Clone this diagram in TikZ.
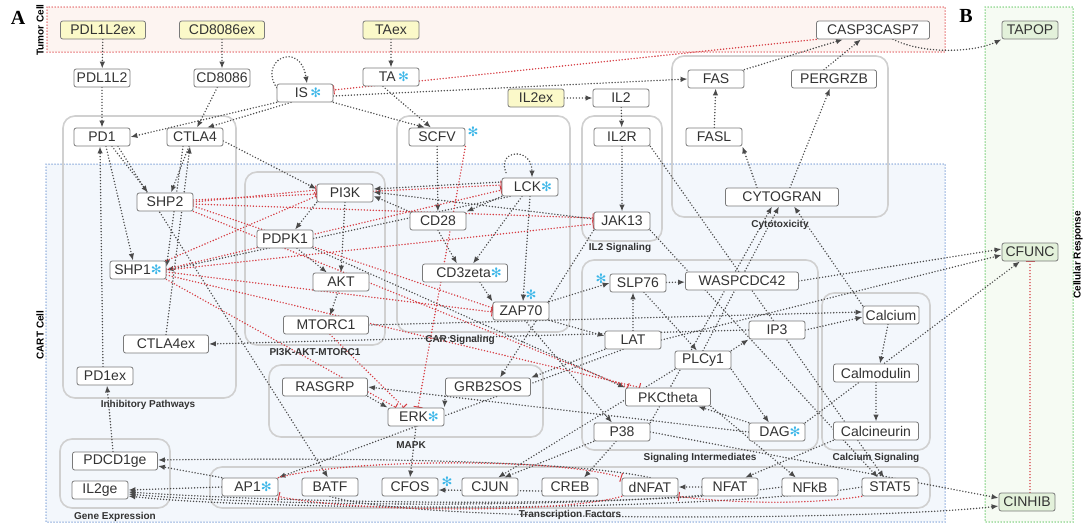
\documentclass[tikz,border=0pt]{standalone}
\usepackage{fontspec}
\setmainfont{Liberation Sans}
\newfontfamily\djv{DejaVu Sans}
\newfontfamily\panelfont{Liberation Serif}
\usetikzlibrary{arrows.meta}
\definecolor{ndb}{HTML}{7A7A7A}
\definecolor{txt}{HTML}{333333}
\definecolor{edg}{HTML}{4A4A4A}
\definecolor{redl}{HTML}{D63A40}
\definecolor{yelf}{HTML}{FBF9C9}
\definecolor{grnf}{HTML}{E3F1DA}
\definecolor{cyanast}{HTML}{3BB6E8}
\definecolor{tumf}{HTML}{FDF4F1}
\definecolor{tumb}{HTML}{E04C50}
\definecolor{cartf}{HTML}{F3F7FC}
\definecolor{cartb}{HTML}{7097D3}
\definecolor{respf}{HTML}{F6FBF3}
\definecolor{respb}{HTML}{5CC45C}
\definecolor{grpc}{HTML}{D0D0D0}
\definecolor{lblc}{HTML}{333333}
\newcommand{\cyast}{{\djv\fontsize{13}{13}\selectfont\color{cyanast}✻}}
\pgfdeclarelayer{bg}
\pgfdeclarelayer{grpl}
\pgfdeclarelayer{edges}
\pgfsetlayers{bg,grpl,edges,main}
\tikzset{
 nd/.style={draw=ndb, rounded corners=2.2pt, fill=white, minimum height=18pt, minimum width=56pt, inner sep=0pt, text=txt, font=\fontsize{14}{14}\selectfont, line width=0.8pt},
 wm/.style={minimum width=85pt}, wl/.style={minimum width=113pt},
 extn/.style={fill=yelf}, respn/.style={fill=grnf},
 act/.style={draw=edg, line width=1.6pt, line cap=round, dash pattern=on 0pt off 3pt, -{Latex[length=7pt,width=5.5pt]}},
 inh/.style={draw=redl, line width=1.6pt, line cap=round, dash pattern=on 0pt off 3pt, -{Bar[width=9pt,line width=1pt]}},
 grp/.style={draw=grpc, rounded corners=12pt, line width=1.6pt},
 glbl/.style={font=\bfseries\fontsize{10}{10}\selectfont, text=lblc},
 plbl/.style={font=\bfseries\fontsize{10}{10}\selectfont, text=black, rotate=90},
 bgbox/.style={line width=1.5pt, line cap=round, dash pattern=on 0pt off 3pt},
 ast/.style={inner sep=0pt},
}
\begin{document}
\begin{tikzpicture}[x=1pt,y=-1pt]
\useasboundingbox (0,0) rectangle (1083,525);
% backgrounds
\begin{pgfonlayer}{bg}
\fill[white] (0,0) rectangle (1083,525);
\fill[tumf] (47,7) rectangle (945,52);
\draw[bgbox, draw=tumb] (47,7) rectangle (945,52);
\fill[cartf] (46,164) rectangle (945,522);
\draw[bgbox, draw=cartb] (46,164) rectangle (945,522);
\fill[respf] (985,7) rectangle (1073,522);
\draw[bgbox, draw=respb] (985,7) rectangle (1073,522);
\end{pgfonlayer}
\begin{pgfonlayer}{grpl}
\draw[grp] (63,116) rectangle (236,398);
\draw[grp] (245,172) rectangle (385,345);
\draw[grp] (397,116) rectangle (570,332);
\draw[grp] (582,116) rectangle (662,241);
\draw[grp] (672,56) rectangle (888,217);
\draw[grp] (269,365) rectangle (543,437);
\draw[grp] (582,260) rectangle (818,450);
\draw[grp] (822,293) rectangle (930,450);
\draw[grp] (60,439) rectangle (170,508);
\draw[grp] (210,467) rectangle (930,508);
\end{pgfonlayer}
% panel labels
\node[font=\panelfont\bfseries\fontsize{20}{20}\selectfont] (pA) at (18,18) {A};
\node[font=\panelfont\bfseries\fontsize{20}{20}\selectfont] (pB) at (966,16) {B};
\node[plbl] (lTumor) at (40,30) {Tumor Cell};
\node[plbl] (lCart) at (40,335) {CART Cell};
\node[plbl] (lResp) at (1078,255) {Cellular Response};
% nodes
\node[nd,wm,extn] (PDL1L2ex) at (103,30) {PDL1L2ex};
\node[nd,wm,extn] (CD8086ex) at (222,30) {CD8086ex};
\node[nd,extn] (TAex) at (391,30) {TAex};
\node[nd,wl] (CASP3CASP7) at (873,30) {CASP3CASP7};
\node[nd,respn] (TAPOP) at (1030,30) {TAPOP};
\node[nd] (PDL1L2) at (102,78) {PDL1L2};
\node[nd] (CD8086) at (222,78) {CD8086};
\node[nd] (IS) at (305,93) {\hspace*{6pt}IS\,\cyast};
\node[nd] (TA) at (391,77) {\hspace*{6pt}TA\,\cyast};
\node[nd] (FAS) at (716,79) {FAS};
\node[nd,wm] (PERGRZB) at (834,79) {PERGRZB};
\node[nd,extn] (IL2ex) at (536,98) {IL2ex};
\node[nd] (IL2) at (621,98) {IL2};
\node[nd] (PD1) at (102,137) {PD1};
\node[nd] (CTLA4) at (195,137) {CTLA4};
\node[nd] (SCFV) at (437,137) {SCFV};
\node[ast] (aSCFV) at (473,132) {\cyast};
\node[nd] (IL2R) at (622,137) {IL2R};
\node[nd] (FASL) at (714,137) {FASL};
\node[nd,wl] (CYTOGRAN) at (782,197) {CYTOGRAN};
\node[nd] (SHP2) at (165,202) {SHP2};
\node[nd] (PI3K) at (345,193) {PI3K};
\node[nd] (LCK) at (530,187) {\hspace*{6pt}LCK\cyast};
\node[nd] (CD28) at (438,221) {CD28};
\node[nd] (JAK13) at (622,221) {JAK13};
\node[nd] (PDPK1) at (285,239) {PDPK1};
\node[nd] (SHP1) at (138,270) {SHP1\cyast};
\node[nd,wm] (CD3zeta) at (465,273) {\hspace*{8pt}CD3zeta\cyast};
\node[nd] (AKT) at (341,282) {AKT};
\node[nd] (SLP76) at (638,283) {SLP76};
\node[ast] (aSLP76) at (601,279) {\cyast};
\node[nd,wl] (WASPCDC42) at (742,281) {WASPCDC42};
\node[nd] (ZAP70) at (521,311) {ZAP70};
\node[ast] (aZAP70) at (531,295) {\cyast};
\node[nd,wm] (MTORC1) at (326,325) {MTORC1};
\node[nd] (Calcium) at (891,315) {Calcium};
\node[nd,wm] (CTLA4ex) at (166,344) {CTLA4ex};
\node[nd] (LAT) at (633,340) {LAT};
\node[nd] (IP3) at (777,330) {IP3};
\node[nd] (PLCy1) at (703,360) {PLCy1};
\node[nd] (PD1ex) at (105,376) {PD1ex};
\node[nd,wm] (Calmodulin) at (876,373) {Calmodulin};
\node[nd,wm] (RASGRP) at (325,387) {RASGRP};
\node[nd,wm] (GRB2SOS) at (488,387) {GRB2SOS};
\node[nd,wm] (PKCtheta) at (668,397) {PKCtheta};
\node[nd] (ERK) at (416,417) {\hspace*{6pt}ERK\cyast};
\node[nd] (P38) at (622,432) {P38};
\node[nd] (DAG) at (777,432) {\hspace*{6pt}DAG\cyast};
\node[nd,wm] (Calcineurin) at (876,431) {Calcineurin};
\node[nd,wm] (PDCD1ge) at (115,461) {PDCD1ge};
\node[nd] (AP1) at (250,487) {\hspace*{6pt}AP1\cyast};
\node[nd] (BATF) at (330,487) {BATF};
\node[nd] (CFOS) at (410,487) {CFOS};
\node[ast] (aCFOS) at (447,482) {\cyast};
\node[nd] (CJUN) at (490,487) {CJUN};
\node[nd] (CREB) at (570,487) {CREB};
\node[nd] (dNFAT) at (650,487) {dNFAT};
\node[nd] (NFAT) at (730,487) {NFAT};
\node[nd] (NFkB) at (810,487) {NFkB};
\node[nd] (STAT5) at (890,487) {STAT5};
\node[nd] (IL2ge) at (100,490) {IL2ge};
\node[nd,respn] (CFUNC) at (1030,252) {CFUNC};
\node[nd,respn] (CINHIB) at (1027,502) {CINHIB};
% group labels
\node[glbl] (gInh) at (148,405) {Inhibitory Pathways};
\node[glbl] (gPI3K) at (315,352) {PI3K-AKT-MTORC1};
\node[glbl] (gCAR) at (460,340) {CAR Signaling};
\node[glbl] (gIL2) at (620,248) {IL2 Signaling};
\node[glbl] (gCyto) at (780,225) {Cytotoxicity};
\node[glbl] (gMAPK) at (411,445) {MAPK};
\node[glbl] (gSig) at (700,458) {Signaling Intermediates};
\node[glbl] (gCa) at (876,458) {Calcium Signaling};
\node[glbl] (gGene) at (115,517) {Gene Expression};
\node[glbl] (gTF) at (570,515) {Transcription Factors};
% edges
\begin{pgfonlayer}{edges}
\draw[act] (PDL1L2ex) -- (PDL1L2);
\draw[act] (CD8086ex) -- (CD8086);
\draw[act] (TAex) -- (TA);
\draw[act] (PDL1L2) -- (PD1);
\draw[act] (CD8086) -- ([xshift=2pt]CTLA4.north);
\draw[act] (IS.south west) -- (PD1.east);
\draw[act] ([xshift=-14pt]IS.south) -- ([xshift=12pt]CTLA4.north);
\draw[act] ([xshift=2pt,yshift=3pt]IS.west) .. controls (255,62) and (300,38) .. ([xshift=2pt]IS.north);
\draw[act] (IS.south east) -- ([xshift=-12pt]SCFV.north);
\draw[act] ([xshift=-8pt]TA.south) -- ([xshift=-6pt]SCFV.north);
\draw[act] ([yshift=-3pt]IS.east) -- (FAS.west);
\draw[inh] (CASP3CASP7.south west) -- ([yshift=3pt]IS.east);
\draw[act] (IL2ex) -- (IL2);
\draw[act] (IL2) -- (IL2R);
\draw[act] (FASL) -- (FAS);
\draw[act] (FAS.north east) -- ([xshift=-30pt]CASP3CASP7.south);
\draw[act] ([xshift=-10pt]PERGRZB.north) -- ([xshift=-12pt]CASP3CASP7.south);
\draw[act] ([xshift=20pt]CASP3CASP7.south) .. controls (925,55) and (975,52) .. (TAPOP.south west);
\draw[act] ([xshift=-25pt]CYTOGRAN.north) -- (FASL.south east);
\draw[act] ([xshift=8pt]CYTOGRAN.north) -- ([xshift=-4pt]PERGRZB.south);
% inhibitory pathways
\draw[act] ([xshift=-2pt]PD1ex.north) -- ([xshift=-2pt]PD1.south);
\draw[act] ([xshift=-2pt]PDCD1ge.north) -- ([xshift=2pt]PD1ex.south);
\draw[act] ([xshift=4pt]PD1.south) -- ([xshift=-5pt]SHP1.north);
\draw[act] ([xshift=10pt]PD1.south) -- ([xshift=-17pt]SHP2.north);
\draw[act] ([xshift=-6pt]CTLA4.south) -- ([xshift=6pt]SHP2.north);
\draw[act] ([xshift=-12pt]CTLA4.south) -- ([yshift=3pt]SHP1.east);
\draw[act] (CTLA4ex.north) -- ([xshift=-5pt]CTLA4.south);
\draw[act] ([xshift=16pt]PD1.south) -- ([xshift=-2pt]BATF.north);
\draw[act] ([yshift=-4pt]CTLA4.east) -- ([yshift=4pt]PI3K.west);
% CAR
\draw[act] (SCFV) -- (CD28);
\draw[act] (LCK.south west) -- (CD28.north east);
\draw[act] ([xshift=-24pt,yshift=5pt]LCK.north) .. controls (496,150) and (532,146) .. ([xshift=2pt]LCK.north);
\draw[act] ([yshift=5pt]LCK.west) -- ([yshift=4pt]PI3K.east);
\draw[act] (CD28.north west) -- ([yshift=-3pt]PI3K.east);
\draw[act] ([yshift=2pt]JAK13.west) -- ([yshift=1pt]PI3K.east);
\draw[act] ([xshift=-8pt]LCK.south) -- ([xshift=8pt]CD3zeta.north);
\draw[act] (CD28.south) -- ([xshift=-8pt]CD3zeta.north);
\draw[act] (LCK.south) -- ([xshift=2pt]ZAP70.north);
\draw[act] ([xshift=15pt]CD3zeta.south) -- (ZAP70.north west);
\draw[act] ([xshift=-20pt]LCK.south) -- (SHP1.east);
% PI3K
\draw[act] (PI3K.south west) -- ([xshift=10pt]PDPK1.north);
\draw[act] (PI3K.south) -- (AKT.north);
\draw[act] ([xshift=12pt]PDPK1.south) -- ([xshift=-14pt]AKT.north);
\draw[act] ([xshift=-3pt]AKT.south) -- ([xshift=4pt]MTORC1.north);
\draw[act] (PDPK1.south east) -- (PKCtheta.north west);
% IL2
\draw[act] (IL2R) -- (JAK13);
\draw[act] (JAK13.south east) -- ([xshift=-12pt]STAT5.north);
\draw[act] (IL2R.south east) -- ([xshift=-6pt]STAT5.north);
\draw[act] (JAK13.south west) -- ([xshift=12pt]GRB2SOS.north);
% signaling intermediates
\draw[act] (ZAP70.north east) -- (SLP76.west);
\draw[act] (ZAP70.south east) -- ([yshift=4pt]LAT.west);
\draw[act] (LAT.north) -- ([xshift=-5pt]SLP76.south);
\draw[act] (SLP76) -- (WASPCDC42);
\draw[act] ([xshift=6pt]SLP76.south) -- ([xshift=-6pt]PLCy1.north);
\draw[act] ([xshift=4pt]ZAP70.south) -- ([xshift=-10pt]P38.north);
\draw[act] (LAT.south west) -- (GRB2SOS.north east);
\draw[act] (GRB2SOS.south west) -- (ERK.north east);
\draw[act] (RASGRP.south east) -- (ERK.north west);
\draw[act] (DAG.west) -- (RASGRP.east);
\draw[act] (DAG.north west) -- ([xshift=30pt]PKCtheta.south);
\draw[act] (PLCy1.south east) -- ([xshift=-8pt]DAG.north);
\draw[act] (PLCy1.north east) -- (IP3.south west);
\draw[act] (IP3.east) -- ([yshift=-2pt]Calcium.west);
\draw[act] ([xshift=-3pt]Calcium.south) -- ([xshift=4pt]Calmodulin.north);
\draw[act] (Calmodulin) -- (Calcineurin);
\draw[act] (Calcineurin.south west) -- ([xshift=15pt]NFAT.north);
\draw[act] (Calcium.north west) -- ([xshift=12pt]CYTOGRAN.south);
\draw[act] (P38.north east) -- ([xshift=-10pt]CYTOGRAN.south);
\draw[act] (PLCy1.north) -- ([xshift=-3pt]CYTOGRAN.south);
\draw[act] (WASPCDC42.east) -- ([yshift=3pt]CFUNC.west);
\draw[act] (LAT.east) -- ([yshift=-3pt]CFUNC.west);
\draw[act] (DAG.north east) -- ([xshift=-10pt]CFUNC.south);
\draw[act] (MTORC1.east) -- ([yshift=3pt]Calcium.west);
\draw[act] (IP3.west) -- (CTLA4ex.east);
\draw[inh] ([xshift=3pt]CINHIB.north) -- (CFUNC.south);
\draw[act] (PKCtheta.south east) -- ([xshift=-14pt]NFkB.north);
% transcription
\draw[act] (ERK.south) -- (CFOS.north);
\draw[act] (P38.south west) -- ([xshift=14pt]CJUN.north);
\draw[act] ([xshift=-6pt]P38.south) -- ([xshift=14pt]CREB.north);
\draw[act] (PLCy1.south west) -- ([xshift=8pt]CJUN.north);
\draw[act] ([yshift=-4pt]CREB.west) -- ([yshift=-3pt]CFOS.east);
\draw[act] ([xshift=-10pt]LAT.south) -- (AP1.north east);
\draw[act] (AP1.north west) -- ([yshift=-5pt]PDCD1ge.east);
\draw[act] (AP1.west) -- (IL2ge.east);
\draw[act] (dNFAT.north) .. controls (560,458) and (300,458) .. ([yshift=1pt]PDCD1ge.east);
\draw[act] (NFAT.south west) .. controls (500,508) and (250,500) .. ([yshift=-2pt]IL2ge.east);
\draw[act] (NFkB.west) .. controls (600,512) and (250,505) .. ([yshift=-4pt]IL2ge.east);
\draw[act] (STAT5.west) .. controls (700,514) and (250,510) .. ([yshift=-6pt]IL2ge.east);
\draw[act] (NFAT.west) -- (dNFAT.east);
\draw[act] (BATF.south) .. controls (420,524) and (880,520) .. ([yshift=-4pt]CINHIB.west);
\draw[act] (P38.east) -- ([yshift=4pt]CINHIB.west);
\draw[inh] (AP1.north east) .. controls (350,458) and (560,458) .. (dNFAT.north west);
\draw[inh] (dNFAT.south west) .. controls (560,514) and (350,512) .. (AP1.south east);
\draw[inh] (STAT5.south west) .. controls (800,506) and (720,502) .. (dNFAT.south east);
% inhibitions from SHP1 / SHP2
\draw[inh] (SHP2.east) -- ([yshift=3pt]PI3K.west);
\draw[inh] (SHP1.north east) -- ([yshift=-3pt]PI3K.west);
\draw[inh] ([yshift=2pt]SHP2.east) -- ([yshift=2pt]LCK.west);
\draw[inh] ([yshift=1pt]SHP1.east) -- ([yshift=-3pt]LCK.west);
\draw[inh] ([yshift=-2pt]SHP2.east) -- ([yshift=3pt]JAK13.west);
\draw[inh] (SHP1.east) -- ([yshift=-3pt]JAK13.west);
\draw[inh] ([yshift=-4pt]SHP2.east) -- ([yshift=3pt]ZAP70.west);
\draw[inh] ([yshift=-2pt]SHP1.east) -- ([yshift=-1pt]ZAP70.west);
\draw[inh] (SHP2.south east) -- ([xshift=-40pt]PKCtheta.north);
\draw[inh] ([yshift=-5pt]SHP1.east) -- ([xshift=-28pt]PKCtheta.north);
\draw[inh] (SHP1.south east) -- ([xshift=-20pt]ERK.north);
\draw[inh] ([xshift=4pt]MTORC1.south) -- ([xshift=-12pt]ERK.north);
\draw[inh] (SCFV.south east) -- ([xshift=2pt]ERK.north);
\end{pgfonlayer}
\end{tikzpicture}
\end{document}
